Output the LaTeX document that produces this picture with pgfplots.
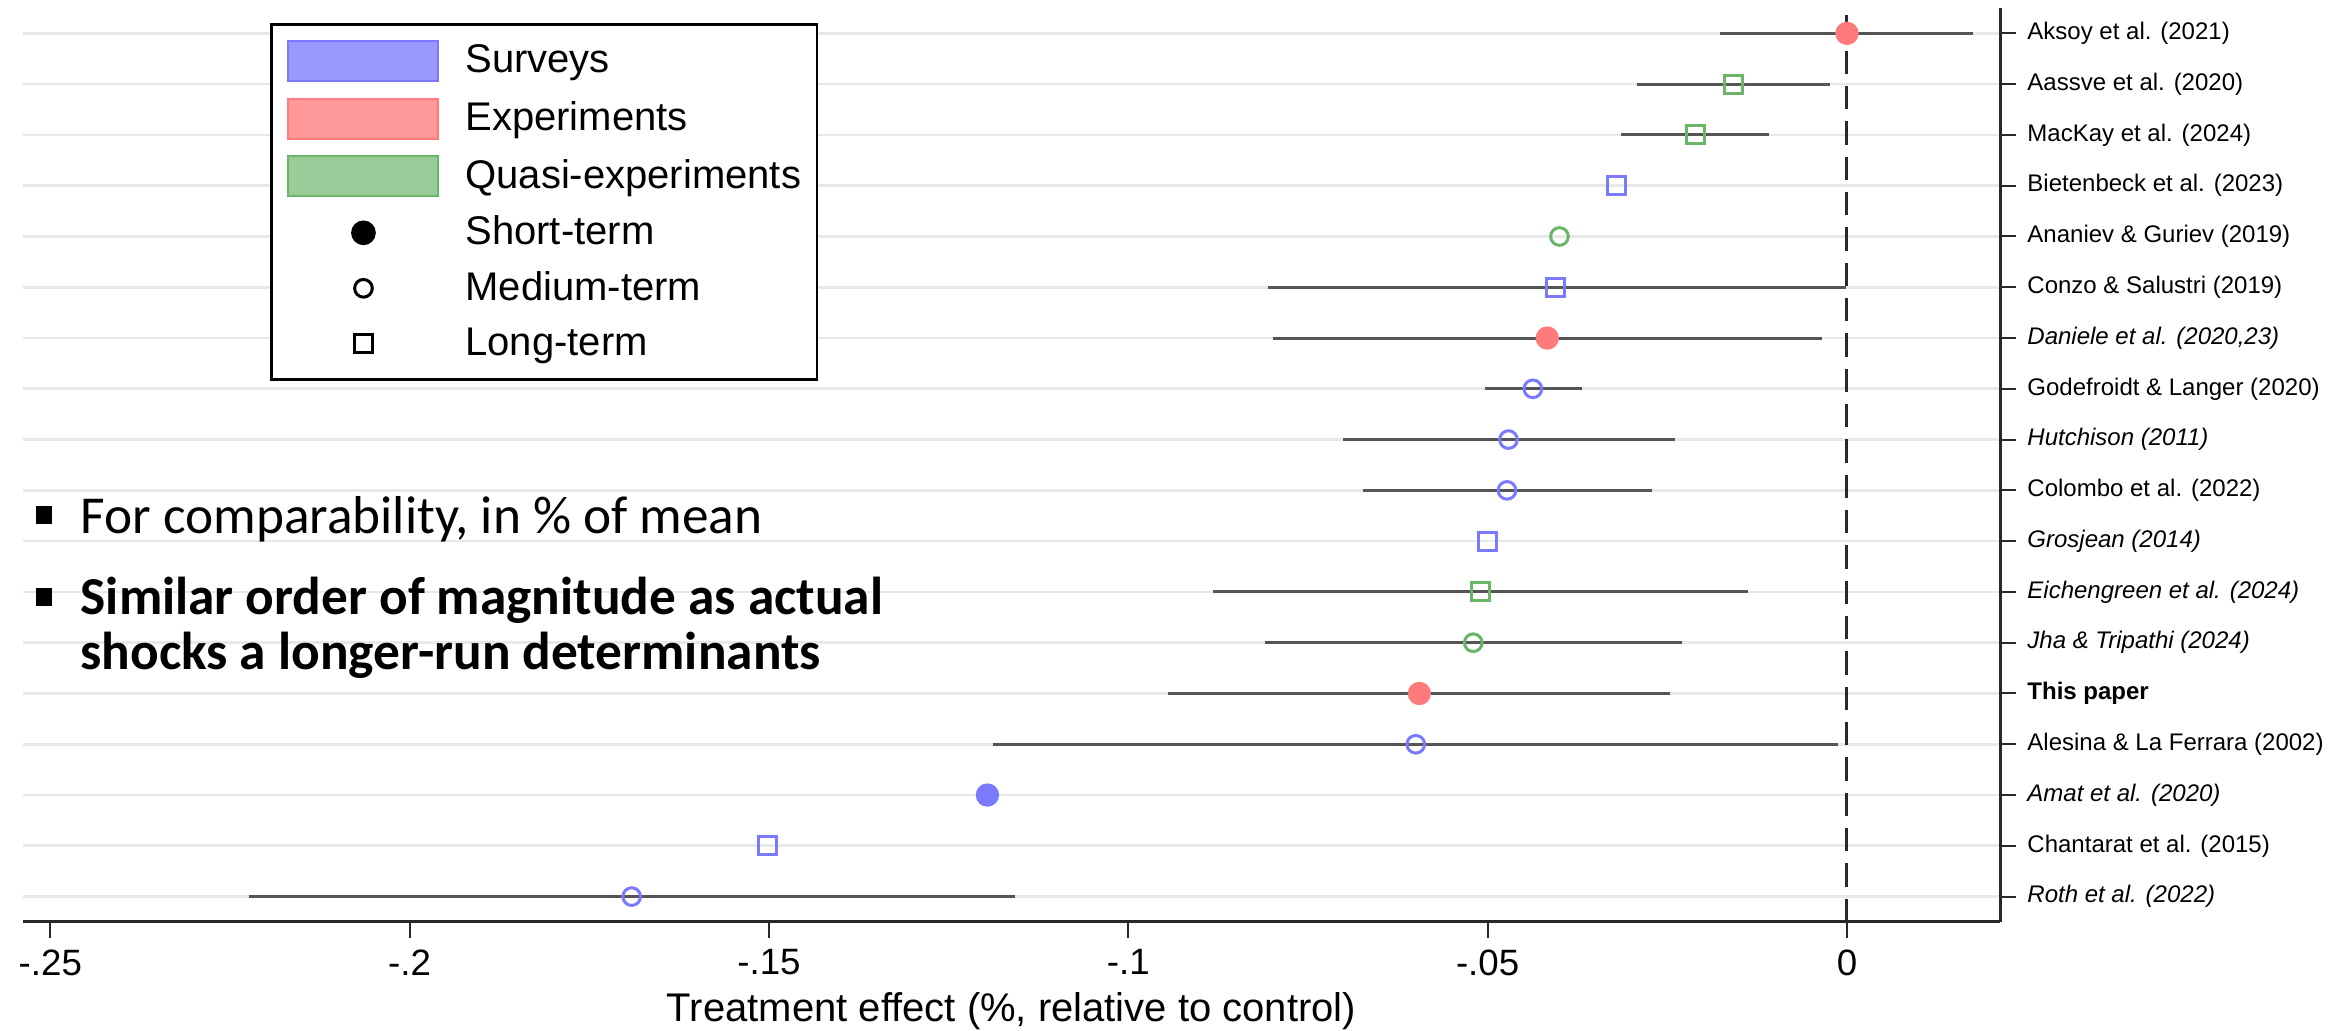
\documentclass[border=0pt]{standalone}
\usepackage{pgfplots}
\pgfplotsset{compat=1.18}
\usepackage{fontspec}
\setmainfont{Liberation Sans}
\newfontfamily\calibri{Carlito}

\definecolor{survM}{RGB}{122,122,255}
\definecolor{expM}{RGB}{255,122,122}
\definecolor{quasiM}{RGB}{105,182,105}
\definecolor{survF}{RGB}{152,152,255}
\definecolor{expF}{RGB}{255,152,152}
\definecolor{quasiF}{RGB}{152,204,152}
\definecolor{ciC}{RGB}{85,85,85}
\definecolor{gridC}{RGB}{232,232,232}
\definecolor{axisC}{RGB}{40,40,40}

\begin{document}
\begin{tikzpicture}
\begin{axis}[
    scale only axis,
    width=593.1pt, height=274.2pt,
    xmin=-0.2538, xmax=0.0213,
    ymin=0.5, ymax=18.5,
    axis x line*=bottom,
    axis y line*=right,
    axis line style={line width=0.9pt, color=axisC},
    xtick={-0.25,-0.2,-0.15,-0.1,-0.05,0},
    xticklabels={-.25,-.2,-.15,-.1,-.05,0},
    ytick={1,...,18},
    yticklabels={
        \textit{Roth et al. (2022)},
        Chantarat et al. (2015),
        \textit{Amat et al. (2020)},
        Alesina \& La Ferrara (2002),
        \textbf{This paper},
        \textit{Jha \& Tripathi (2024)},
        \textit{Eichengreen et al. (2024)},
        \textit{Grosjean (2014)},
        Colombo et al. (2022),
        \textit{Hutchison (2011)},
        Godefroidt \& Langer (2020),
        {\textit{Daniele et al. (2020,23)}},
        Conzo \& Salustri (2019),
        Ananiev \& Guriev (2019),
        Bietenbeck et al. (2023),
        MacKay et al. (2024),
        Aassve et al. (2020),
        Aksoy et al. (2021)},
    tick align=outside,
    major tick length=4.7pt,
    tick style={line width=0.6pt, color=axisC},
    ymajorgrids,
    grid style={line width=0.8pt, color=gridC},
    xticklabel style={font=\fontsize{11}{12}\selectfont},
    yticklabel style={font=\fontsize{7.2}{8}\selectfont, anchor=west},
    xlabel={Treatment effect (\%, relative to control)},
    xlabel style={font=\fontsize{12}{14}\selectfont, at={(axis description cs:0.5,0)}, anchor=base, inner sep=0pt, yshift=-29.9pt},
    legend style={
        at={(0.125,0.9836)}, anchor=north west,
        draw=black, line width=0.8pt,
        font=\fontsize{12}{14}\selectfont,
        inner xsep=4.8pt, inner ysep=4.8pt,
        row sep=4.65pt,
        nodes={inner sep=0pt},
        /tikz/every odd column/.append style={column sep=7.8pt},
    },
    legend cell align=left,
    clip=false,
]

% legend entries
\addlegendimage{legend image code/.code={\draw[fill=survF, draw=survM, line width=0.6pt] (0pt,-6pt) rectangle (45pt,6pt);}}
\addlegendentry{Surveys}
\addlegendimage{legend image code/.code={\draw[fill=expF, draw=expM, line width=0.6pt] (0pt,-6pt) rectangle (45pt,6pt);}}
\addlegendentry{Experiments}
\addlegendimage{legend image code/.code={\draw[fill=quasiF, draw=quasiM, line width=0.6pt] (0pt,-6pt) rectangle (45pt,6pt);}}
\addlegendentry{Quasi-experiments}
\addlegendimage{legend image code/.code={\path[draw=none, fill=none] (0pt,-6pt) rectangle (45pt,6pt); \fill[black] (22.5pt,0pt) circle (3.3pt);}}
\addlegendentry{Short-term}
\addlegendimage{legend image code/.code={\path[draw=none, fill=none] (0pt,-6pt) rectangle (45pt,6pt); \draw[black, line width=0.9pt] (22.5pt,0pt) circle (2.65pt);}}
\addlegendentry{Medium-term}
\addlegendimage{legend image code/.code={\path[draw=none, fill=none] (0pt,-6pt) rectangle (45pt,6pt); \draw[black, line width=0.9pt] (19.8pt,-2.7pt) rectangle (25.2pt,2.7pt);}}
\addlegendentry{Long-term}

% zero line
\addplot[forget plot, no marks, line width=0.9pt, color=axisC, dash pattern=on 7pt off 3.6pt]
    coordinates {(0,0.5) (0,18.5)};

% confidence intervals
\addplot[forget plot, no marks, line width=0.9pt, color=ciC, unbounded coords=jump] table {
x y
-0.0176 18
0.0175 18
nan nan
-0.0292 17
-0.0024 17
nan nan
-0.0314 16
-0.0108 16
nan nan
-0.0806 13
-0.0002 13
nan nan
-0.0799 12
-0.0035 12
nan nan
-0.0504 11
-0.0369 11
nan nan
-0.0701 10
-0.0239 10
nan nan
-0.0673 9
-0.0271 9
nan nan
-0.0882 7
-0.0137 7
nan nan
-0.0810 6
-0.0229 6
nan nan
-0.0945 5
-0.0246 5
nan nan
-0.1188 4
-0.0012 4
nan nan
-0.2224 1
-0.1157 1
};

% experiments, short-term
\addplot[forget plot, only marks, color=expM, mark=*, mark size=3.3pt]
    coordinates {(0,18) (-0.0417,12) (-0.0595,5)};
% quasi-experiments, long-term
\addplot[forget plot, only marks, color=quasiM, mark=square, mark size=2.7pt, mark options={line width=0.9pt}]
    coordinates {(-0.0158,17) (-0.0211,16) (-0.0510,7)};
% quasi-experiments, medium-term
\addplot[forget plot, only marks, color=quasiM, mark=o, mark size=2.65pt, mark options={line width=0.9pt}]
    coordinates {(-0.0400,14) (-0.0520,6)};
% surveys, long-term
\addplot[forget plot, only marks, color=survM, mark=square, mark size=2.7pt, mark options={line width=0.9pt}]
    coordinates {(-0.0320,15) (-0.0405,13) (-0.0500,8) (-0.1502,2)};
% surveys, medium-term
\addplot[forget plot, only marks, color=survM, mark=o, mark size=2.65pt, mark options={line width=0.9pt}]
    coordinates {(-0.0437,11) (-0.0471,10) (-0.0473,9) (-0.0600,4) (-0.1691,1)};
% surveys, short-term
\addplot[forget plot, only marks, color=survM, mark=*, mark size=3.3pt]
    coordinates {(-0.1196,3)};

% slide annotations
\node[anchor=base west, inner sep=0pt, font=\calibri\fontsize{16}{19}\selectfont]
    at (rel axis cs:0.00607,0.425) {\rule[3pt]{4.8pt}{5.4pt}\hspace{8.7pt}For comparability, in \% of mean};
\node[anchor=base west, inner sep=0pt, font=\calibri\bfseries\fontsize{16}{19}\selectfont]
    at (rel axis cs:0.00607,0.3359) {\rule[2.7pt]{4.8pt}{5.4pt}\hspace{8.7pt}Similar order of magnitude as actual};
\node[anchor=base west, inner sep=0pt, font=\calibri\bfseries\fontsize{16}{19}\selectfont]
    at (rel axis cs:0.0288,0.2757) {shocks a longer-run determinants};
\end{axis}
\path ([xshift=-6.9pt, yshift=-32.7pt]current axis.south west) rectangle ([xshift=101.4pt, yshift=2.4pt]current axis.north east);
\end{tikzpicture}
\end{document}
